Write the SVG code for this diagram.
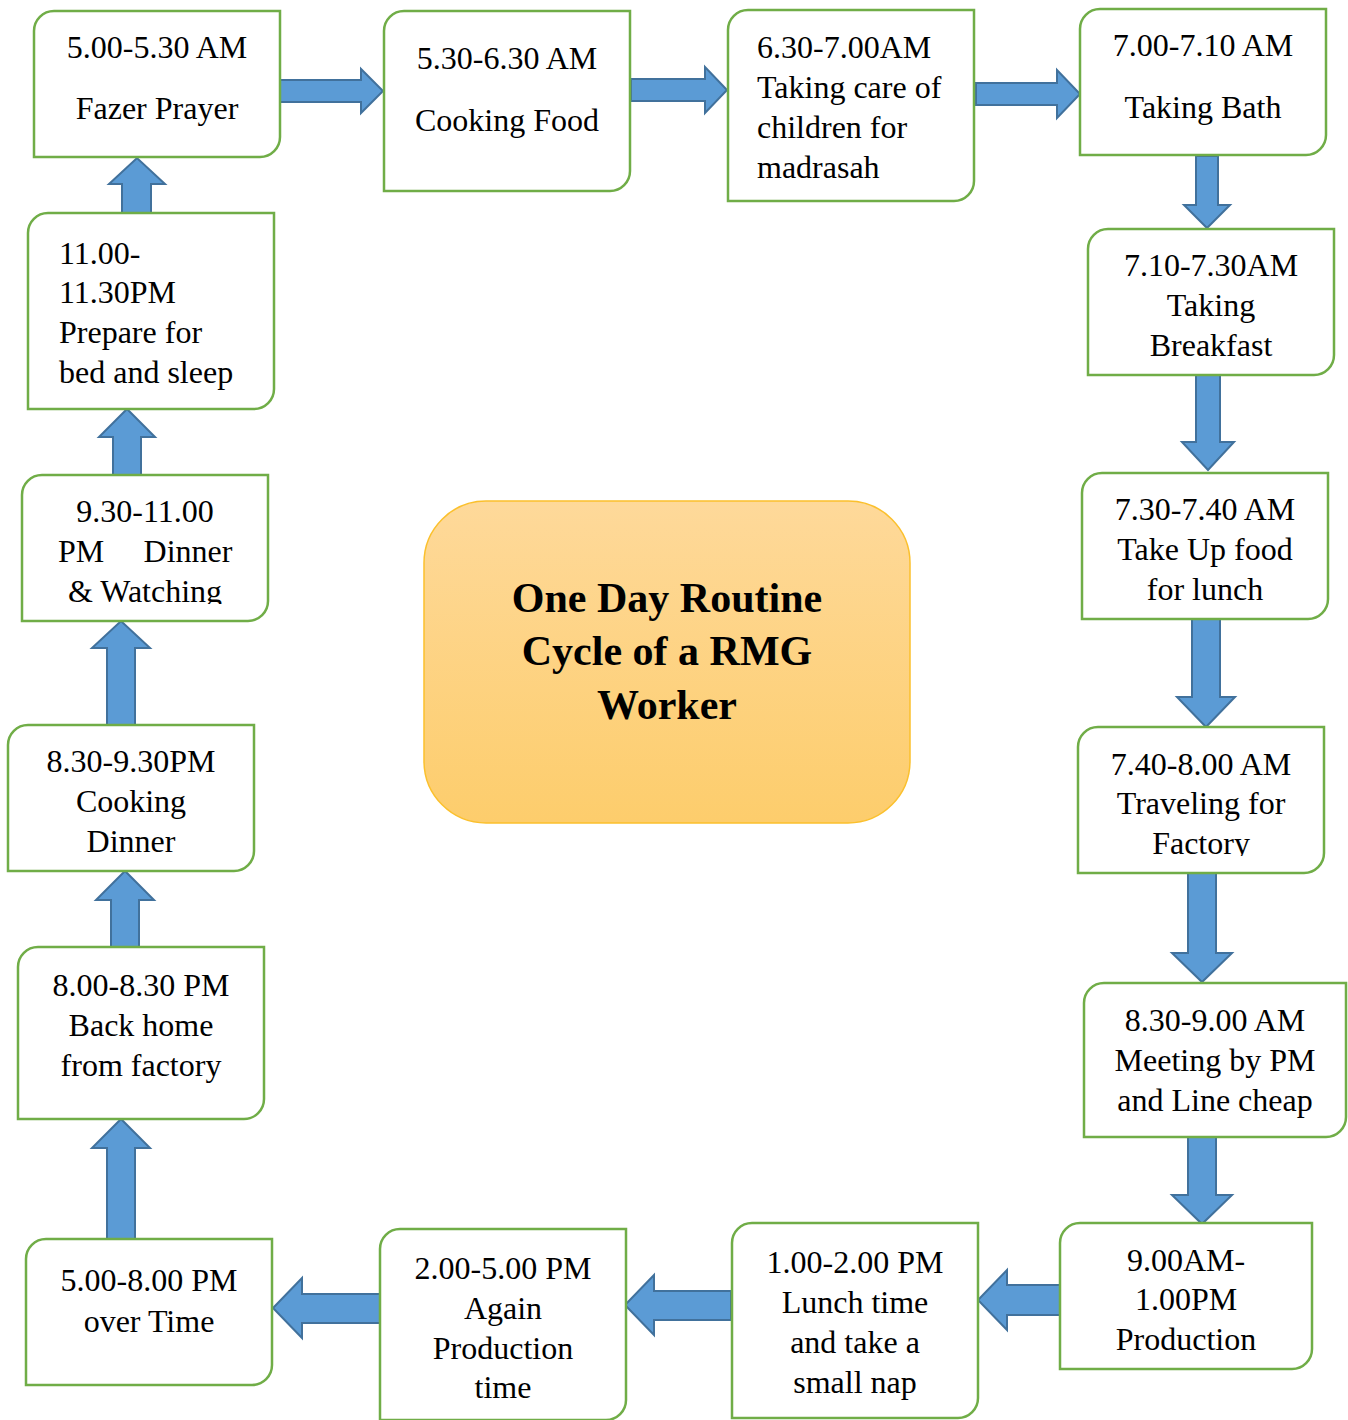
<svg xmlns="http://www.w3.org/2000/svg" width="1348" height="1420" viewBox="0 0 1348 1420">
<style>
.box{fill:#fff;stroke:#70ad47;stroke-width:2.5}
.t{font-family:"Liberation Serif","Times New Roman",serif;font-size:32px;fill:#000;text-anchor:middle}
.l{text-anchor:start}
.arr{fill:#5b9bd5;stroke:#41719c;stroke-width:2;stroke-linejoin:miter}
.title{font-family:"Liberation Serif","Times New Roman",serif;font-size:42px;font-weight:bold;fill:#000;text-anchor:middle}
</style>
<defs>
<linearGradient id="g" x1="0" y1="0" x2="0" y2="1">
<stop offset="0" stop-color="#fed99a"/>
<stop offset="1" stop-color="#fdcd6c"/>
</linearGradient>
<clipPath id="c15"><rect x="0" y="470" width="300" height="134"/></clipPath>
<clipPath id="c7"><rect x="1070" y="720" width="270" height="136"/></clipPath>
</defs>
<rect width="1348" height="1420" fill="#fff"/>

<g id="connectors">
<polygon class="arr" points="280,80 361,80 361,69 383,91 361,113 361,102 280,102"/>
<polygon class="arr" points="631,79 705,79 705,67 727,90 705,113 705,101 631,101"/>
<polygon class="arr" points="976,83 1057,83 1057,70 1080,94 1057,118 1057,105 976,105"/>
<polygon class="arr" points="1196,156 1218,156 1218,205 1230,205 1207,228 1184,205 1196,205"/>
<polygon class="arr" points="1196,375 1220,375 1220,442 1234,442 1208,470 1182,442 1196,442"/>
<polygon class="arr" points="1192,619 1220,619 1220,697 1235,697 1206,727 1177,697 1192,697"/>
<polygon class="arr" points="1188,873 1216,873 1216,953 1232,953 1202,982 1172,953 1188,953"/>
<polygon class="arr" points="1188,1137 1216,1137 1216,1195 1232,1195 1202,1224 1172,1195 1188,1195"/>
<polygon class="arr" points="1060,1285 1007,1285 1007,1270 978,1300 1007,1330 1007,1315 1060,1315"/>
<polygon class="arr" points="731,1291 654,1291 654,1275 625,1305 654,1335 654,1320 731,1320"/>
<polygon class="arr" points="380,1294 302,1294 302,1278 273,1308 302,1338 302,1323 380,1323"/>
<polygon class="arr" points="107,1239 107,1148 92,1148 121,1119 150,1148 135,1148 135,1239"/>
<polygon class="arr" points="111,947 111,900 96,900 125,871 154,900 139,900 139,947"/>
<polygon class="arr" points="107,725 107,648 92,648 121,621 150,648 135,648 135,725"/>
<polygon class="arr" points="113,475 113,437 99,437 127,409 155,437 141,437 141,475"/>
<polygon class="arr" points="122,213 122,184 109,184 137,158 165,184 151,184 151,213"/>
</g>

<g id="n1">
<path class="box" d="M54,11 H280 V137 A20,20 0 0 1 260,157 H34 V31 A20,20 0 0 1 54,11 Z"/>
<text class="t" x="157" y="58">5.00-5.30 AM</text>
<text class="t" x="157" y="119">Fazer Prayer</text>
</g>
<g id="n2">
<path class="box" d="M404,11 H630 V171 A20,20 0 0 1 610,191 H384 V31 A20,20 0 0 1 404,11 Z"/>
<text class="t" x="507" y="69">5.30-6.30 AM</text>
<text class="t" x="507" y="131">Cooking Food</text>
</g>
<g id="n3">
<path class="box" d="M748,10 H974 V181 A20,20 0 0 1 954,201 H728 V30 A20,20 0 0 1 748,10 Z"/>
<text class="t l" x="757" y="58">6.30-7.00AM</text>
<text class="t l" x="757" y="98">Taking care of</text>
<text class="t l" x="757" y="138">children for</text>
<text class="t l" x="757" y="178">madrasah</text>
</g>
<g id="n4">
<path class="box" d="M1100,9 H1326 V135 A20,20 0 0 1 1306,155 H1080 V29 A20,20 0 0 1 1100,9 Z"/>
<text class="t" x="1203" y="56">7.00-7.10 AM</text>
<text class="t" x="1203" y="118">Taking Bath</text>
</g>
<g id="n5">
<path class="box" d="M1108,229 H1334 V355 A20,20 0 0 1 1314,375 H1088 V249 A20,20 0 0 1 1108,229 Z"/>
<text class="t" x="1211" y="276">7.10-7.30AM</text>
<text class="t" x="1211" y="316">Taking</text>
<text class="t" x="1211" y="356">Breakfast</text>
</g>
<g id="n6">
<path class="box" d="M1102,473 H1328 V599 A20,20 0 0 1 1308,619 H1082 V493 A20,20 0 0 1 1102,473 Z"/>
<text class="t" x="1205" y="520">7.30-7.40 AM</text>
<text class="t" x="1205" y="560">Take Up food</text>
<text class="t" x="1205" y="600">for lunch</text>
</g>
<g id="n7">
<path class="box" d="M1098,727 H1324 V853 A20,20 0 0 1 1304,873 H1078 V747 A20,20 0 0 1 1098,727 Z"/>
<text class="t" x="1201" y="775">7.40-8.00 AM</text>
<text class="t" x="1201" y="814">Traveling for</text>
<text class="t" x="1201" y="854" clip-path="url(#c7)">Factory</text>
</g>
<g id="n8">
<path class="box" d="M1104,983 H1346 V1117 A20,20 0 0 1 1326,1137 H1084 V1003 A20,20 0 0 1 1104,983 Z"/>
<text class="t" x="1215" y="1031">8.30-9.00 AM</text>
<text class="t" x="1215" y="1071">Meeting by PM</text>
<text class="t" x="1215" y="1111">and Line cheap</text>
</g>
<g id="n9">
<path class="box" d="M1080,1223 H1312 V1349 A20,20 0 0 1 1292,1369 H1060 V1243 A20,20 0 0 1 1080,1223 Z"/>
<text class="t" x="1186" y="1271">9.00AM-</text>
<text class="t" x="1186" y="1310">1.00PM</text>
<text class="t" x="1186" y="1350">Production</text>
</g>
<g id="n10">
<path class="box" d="M752,1223 H978 V1398 A20,20 0 0 1 958,1418 H732 V1243 A20,20 0 0 1 752,1223 Z"/>
<text class="t" x="855" y="1273">1.00-2.00 PM</text>
<text class="t" x="855" y="1313">Lunch time</text>
<text class="t" x="855" y="1353">and take a</text>
<text class="t" x="855" y="1393">small nap</text>
</g>
<g id="n11">
<path class="box" d="M400,1229 H626 V1400 A20,20 0 0 1 606,1420 H380 V1249 A20,20 0 0 1 400,1229 Z"/>
<text class="t" x="503" y="1279">2.00-5.00 PM</text>
<text class="t" x="503" y="1319">Again</text>
<text class="t" x="503" y="1359">Production</text>
<text class="t" x="503" y="1398">time</text>
</g>
<g id="n12">
<path class="box" d="M46,1239 H272 V1365 A20,20 0 0 1 252,1385 H26 V1259 A20,20 0 0 1 46,1239 Z"/>
<text class="t" x="149" y="1291">5.00-8.00 PM</text>
<text class="t" x="149" y="1332">over Time</text>
</g>
<g id="n13">
<path class="box" d="M38,947 H264 V1099 A20,20 0 0 1 244,1119 H18 V967 A20,20 0 0 1 38,947 Z"/>
<text class="t" x="141" y="996">8.00-8.30 PM</text>
<text class="t" x="141" y="1036">Back home</text>
<text class="t" x="141" y="1076">from factory</text>
</g>
<g id="n14">
<path class="box" d="M28,725 H254 V851 A20,20 0 0 1 234,871 H8 V745 A20,20 0 0 1 28,725 Z"/>
<text class="t" x="131" y="772">8.30-9.30PM</text>
<text class="t" x="131" y="812">Cooking</text>
<text class="t" x="131" y="852">Dinner</text>
</g>
<g id="n15">
<path class="box" d="M42,475 H268 V601 A20,20 0 0 1 248,621 H22 V495 A20,20 0 0 1 42,475 Z"/>
<text class="t" x="145" y="522">9.30-11.00</text>
<text class="t l" x="58" y="562">PM</text>
<text class="t" x="188" y="562">Dinner</text>
<text class="t" x="145" y="602" clip-path="url(#c15)">&amp; Watching</text>
</g>
<g id="n16">
<path class="box" d="M48,213 H274 V389 A20,20 0 0 1 254,409 H28 V233 A20,20 0 0 1 48,213 Z"/>
<text class="t l" x="59" y="264">11.00-</text>
<text class="t l" x="59" y="303">11.30PM</text>
<text class="t l" x="59" y="343">Prepare for</text>
<text class="t l" x="59" y="383">bed and sleep</text>
</g>
<g id="center">
<rect x="424" y="501" width="486" height="322" rx="62" ry="62" fill="url(#g)" stroke="#fbc02d" stroke-width="1.5"/>
<text class="title" x="667" y="612">One Day Routine</text>
<text class="title" x="667" y="665">Cycle of a RMG</text>
<text class="title" x="667" y="719">Worker</text>
</g>
</svg>
